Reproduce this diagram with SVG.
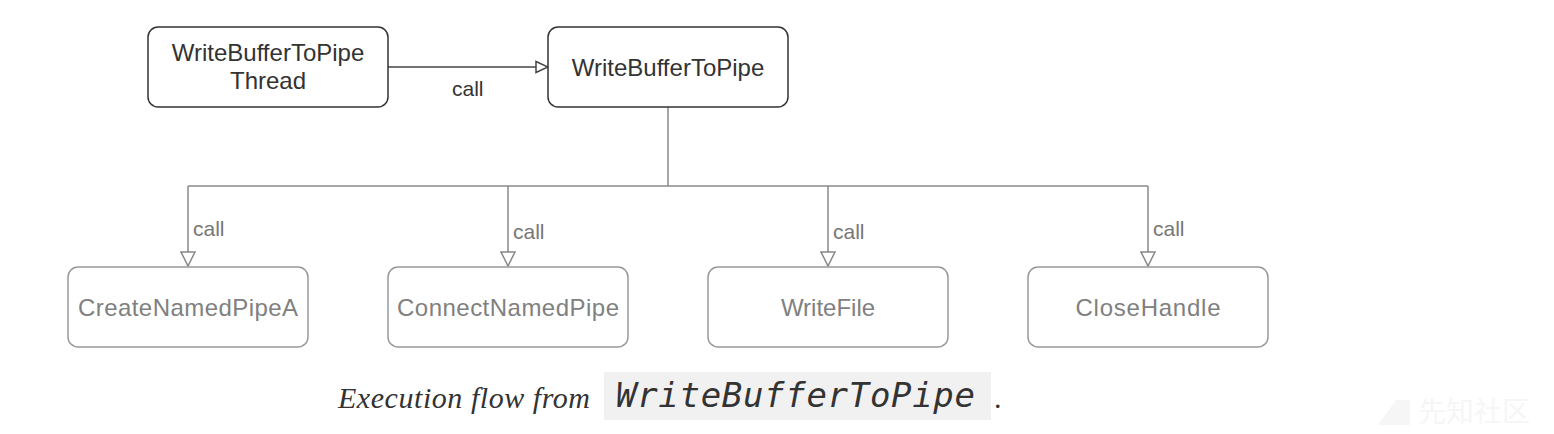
<svg xmlns="http://www.w3.org/2000/svg" width="1554" height="434" viewBox="0 0 1554 434">
<style>
.top rect{fill:#fff;stroke:#333;stroke-width:1.5}
.top text{font-family:"Liberation Sans",Arial,sans-serif;font-size:24px;fill:#333;text-anchor:middle}
.bot rect{fill:#fff;stroke:#999;stroke-width:1.5}
.bot text{font-family:"Liberation Sans",Arial,sans-serif;font-size:24px;fill:#808080;text-anchor:middle}
.lbl{font-family:"Liberation Sans",Arial,sans-serif;font-size:21px;fill:#777}
.edge{fill:none;stroke:#888;stroke-width:1.5}
</style>
<defs>
<marker id="tri" viewBox="0 0 16 16" refX="15" refY="8" markerWidth="16" markerHeight="16" markerUnits="userSpaceOnUse" orient="auto">
<path d="M1,1 L15,8 L1,15 Z" fill="#fff" stroke="#888" stroke-width="1.5"/>
</marker>
<marker id="triD" viewBox="0 0 14 14" refX="13" refY="7" markerWidth="14" markerHeight="14" markerUnits="userSpaceOnUse" orient="auto">
<path d="M1,1.5 L13,7 L1,12.5 Z" fill="#fff" stroke="#444" stroke-width="1.5"/>
</marker>
</defs>
<rect width="1554" height="434" fill="#fff"/>
<g id="connectors">
<path d="M388,67 H548" fill="none" stroke="#444" stroke-width="1.5" marker-end="url(#triD)"/>
<text x="452" y="96" class="lbl" style="fill:#333">call</text>
<path class="edge" d="M668,107 V186"/>
<path class="edge" d="M188,186 H1148"/>
<path class="edge" d="M188,186 V266" marker-end="url(#tri)"/>
<path class="edge" d="M508,186 V266" marker-end="url(#tri)"/>
<path class="edge" d="M828,186 V266" marker-end="url(#tri)"/>
<path class="edge" d="M1148,186 V266" marker-end="url(#tri)"/>
<text x="193" y="236" class="lbl">call</text>
<text x="513" y="239" class="lbl">call</text>
<text x="833" y="239" class="lbl">call</text>
<text x="1153" y="236" class="lbl">call</text>
</g>
<g id="node-thread" class="top">
<rect x="148" y="27" width="240" height="80" rx="10"/>
<text x="268" y="61">WriteBufferToPipe</text>
<text x="268" y="89">Thread</text>
</g>
<g id="node-write" class="top">
<rect x="548" y="27" width="240" height="80" rx="10"/>
<text x="668" y="76">WriteBufferToPipe</text>
</g>
<g id="node-create" class="bot">
<rect x="68" y="267" width="240" height="80" rx="10"/>
<text x="188" y="316" textLength="220">CreateNamedPipeA</text>
</g>
<g id="node-connect" class="bot">
<rect x="388" y="267" width="240" height="80" rx="10"/>
<text x="508" y="316" textLength="222">ConnectNamedPipe</text>
</g>
<g id="node-writefile" class="bot">
<rect x="708" y="267" width="240" height="80" rx="10"/>
<text x="828" y="316">WriteFile</text>
</g>
<g id="node-close" class="bot">
<rect x="1028" y="267" width="240" height="80" rx="10"/>
<text x="1148" y="316" textLength="145">CloseHandle</text>
</g>
<g id="caption">
<text x="338" y="408" font-family="'Liberation Serif',Georgia,serif" font-style="italic" font-size="30" fill="#333" textLength="252">Execution flow from</text>
<rect x="604" y="372" width="387" height="48" fill="#f1f1f1"/>
<text x="616" y="407" font-family="'DejaVu Sans Mono',monospace" font-style="italic" font-size="34" fill="#333" textLength="359">WriteBufferToPipe</text>
<text x="994" y="408" font-family="'Liberation Serif',Georgia,serif" font-size="30" fill="#333">.</text>
</g>
<g id="watermark">
<polygon points="1378,425 1396,400 1410,400 1410,425" fill="#f6f6f6"/>
<text x="1418" y="422" font-family="'Noto Sans CJK SC',sans-serif" font-size="28" fill="#f6f6f6">先知社区</text>
</g>
</svg>
